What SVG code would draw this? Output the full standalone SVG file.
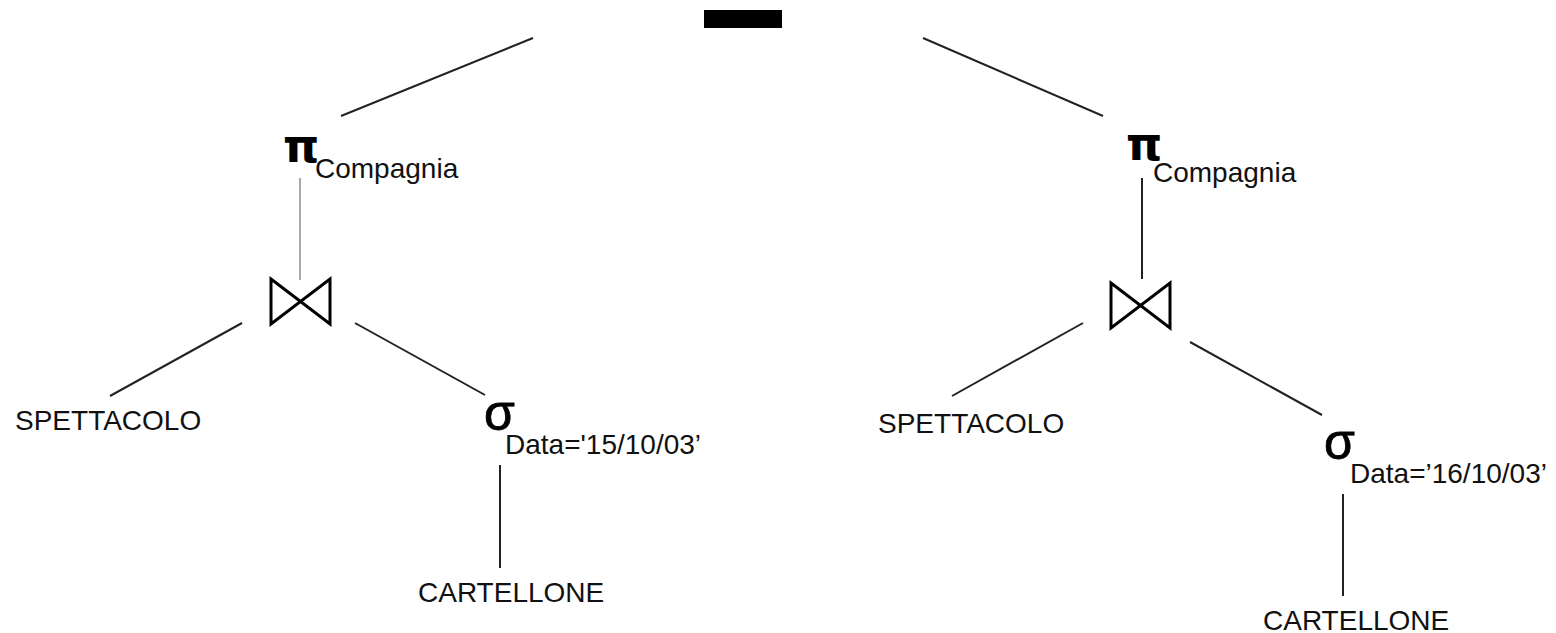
<svg xmlns="http://www.w3.org/2000/svg" width="1556" height="633" viewBox="0 0 1556 633">
<style>
.t{font-family:"Liberation Sans",Arial,sans-serif;font-size:28px;fill:#111}
.g{font-family:"Liberation Sans",Arial,sans-serif;font-size:50px;fill:#000;stroke:#000;stroke-width:0.8}
.p{font-family:"DejaVu Sans",sans-serif;font-size:46px;font-weight:bold;fill:#000}
.e{stroke:#222;stroke-width:2;fill:none}
.bt{stroke:#000;stroke-width:3;fill:none;stroke-linejoin:miter}
</style>
<rect width="1556" height="633" fill="#fff"/>
<g id="connectors">
<line class="e" x1="341" y1="116" x2="533" y2="38"/>
<line class="e" x1="923" y1="38" x2="1103" y2="116"/>
<line x1="300" y1="178" x2="300" y2="280" stroke="#aaa" stroke-width="2"/>
<line class="e" x1="1142" y1="178" x2="1142" y2="279"/>
<line class="e" x1="242" y1="323" x2="110" y2="396"/>
<line class="e" x1="355" y1="323" x2="485" y2="395"/>
<line class="e" x1="1083" y1="323" x2="952" y2="396"/>
<line class="e" x1="1190" y1="342" x2="1322" y2="415"/>
<line class="e" x1="500" y1="465" x2="500" y2="568"/>
<line class="e" x1="1343" y1="494" x2="1343" y2="596"/>
</g>
<g id="difference">
<rect x="704" y="10" width="78" height="18" fill="#000"/>
</g>
<g id="proj-left">
<text class="p" x="283" y="162">π</text>
<text class="t" x="315" y="178">Compagnia</text>
</g>
<g id="proj-right">
<text class="p" x="1126" y="160">π</text>
<text class="t" x="1153" y="182">Compagnia</text>
</g>
<g id="join-left">
<polygon class="bt" points="271,279 330,324 330,279 271,324"/>
</g>
<g id="join-right">
<polygon class="bt" points="1111,283 1170,328 1170,283 1111,328"/>
</g>
<g id="spettacolo-left">
<text class="t" x="15" y="430">SPETTACOLO</text>
</g>
<g id="spettacolo-right">
<text class="t" x="878" y="433">SPETTACOLO</text>
</g>
<g id="sel-left">
<text class="g" x="484" y="430">σ</text>
<text class="t" x="505" y="454">Data='15/10/03’</text>
</g>
<g id="sel-right">
<text class="g" x="1324" y="459">σ</text>
<text class="t" x="1350" y="483">Data=’16/10/03’</text>
</g>
<g id="cartellone-left">
<text class="t" x="418" y="602">CARTELLONE</text>
</g>
<g id="cartellone-right">
<text class="t" x="1263" y="630">CARTELLONE</text>
</g>
</svg>
